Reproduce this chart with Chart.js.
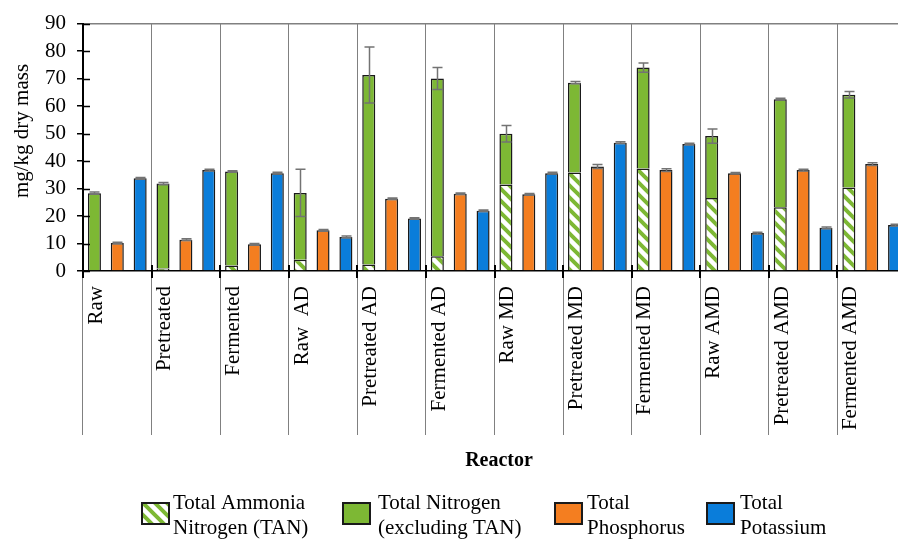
<!DOCTYPE html>
<html>
<head>
<meta charset="utf-8">
<script src="https://cdn.jsdelivr.net/npm/chart.js@4/dist/chart.umd.min.js"></script>
<style>
  html, body { margin: 0; padding: 0; background: #fff; overflow: hidden; width: 898px; height: 541px; }
  canvas { display: block; }
</style>
</head>
<body>
<canvas id="c" width="920" height="541"></canvas>
<script>
// Reactors (x categories)
const reactors = ['Raw', 'Pretreated', 'Fermented', 'Raw  AD', 'Pretreated AD', 'Fermented AD',
                  'Raw MD', 'Pretreated MD', 'Fermented MD', 'Raw AMD', 'Pretreated AMD', 'Fermented AMD'];

// Nutrient contents, mg/kg dry mass
const tan        = [0.0, 0.9, 2.0, 4.1, 2.4, 5.4, 31.5, 35.8, 37.3, 26.6, 23.2, 30.4];
const tnExclTan  = [28.3, 30.9, 34.2, 24.3, 68.9, 64.6, 18.4, 32.7, 36.7, 22.5, 39.3, 33.7];
const phosphorus = [10.2, 11.4, 9.7, 14.8, 26.3, 28.1, 27.9, 38.0, 36.7, 35.6, 36.7, 38.9];
const potassium  = [33.7, 36.7, 35.6, 12.4, 19.1, 21.9, 35.6, 46.7, 46.2, 13.8, 15.7, 16.7];

// Standard deviations (total nitrogen, phosphorus, potassium)
const nErr = [0.4, 0.4, 0.3, 8.6, 10.2, 4.0, 3.0, 0.4, 1.7, 2.6, 0.3, 1.2];
const pErr = [0.3, 0.3, 0.3, 0.3, 0.3, 0.3, 0.3, 0.7, 0.5, 0.2, 0.3, 0.5];
const kErr = [0.3, 0.3, 0.3, 0.3, 0.3, 0.3, 0.3, 0.3, 0.3, 0.3, 0.3, 0.3];

// Axis ticks
const yMin = 0, yMax = 90, yStep = 10;

const GREEN = '#7db834';
const ORANGE = '#f47e20';
const BLUE = '#0a7dda';
const EDGE = '#1a1a1a';
const FONT = "'Liberation Serif', 'Times New Roman', serif";

// white background with green downward-diagonal stripes
function makeHatch() {
  const s = 12;
  const c = document.createElement('canvas');
  c.width = s; c.height = s;
  const g = c.getContext('2d');
  g.fillStyle = '#fff';
  g.fillRect(0, 0, s, s);
  g.strokeStyle = GREEN;
  g.lineWidth = 4;
  g.beginPath();
  for (let k = -1; k <= 1; k++) {
    g.moveTo(-s, -s + k * s);
    g.lineTo(2 * s, 2 * s + k * s);
  }
  g.stroke();
  return g.createPattern(c, 'repeat');
}

const canvas = document.getElementById('c');
const hatch = makeHatch();

const barStyle = { borderColor: EDGE, borderWidth: 1.5, categoryPercentage: 1.0, barPercentage: 0.57 };

const datasets = [
  Object.assign({ label: ['Total Ammonia', 'Nitrogen (TAN)'], data: tan, stack: 'N', backgroundColor: hatch, err: null }, barStyle),
  Object.assign({ label: ['Total Nitrogen', '(excluding TAN)'], data: tnExclTan, stack: 'N', backgroundColor: GREEN, err: nErr }, barStyle),
  Object.assign({ label: ['Total', 'Phosphorus'], data: phosphorus, stack: 'P', backgroundColor: ORANGE, err: pErr }, barStyle),
  Object.assign({ label: ['Total', 'Potassium'], data: potassium, stack: 'K', backgroundColor: BLUE, err: kErr }, barStyle)
];

// error bars, axis cross ticks, titles and the two-line legend
const decor = {
  id: 'decor',
  afterDatasetsDraw(chart) {
    const ctx = chart.ctx;
    const y = chart.scales.y;
    ctx.save();
    ctx.strokeStyle = '#737373';
    ctx.lineWidth = 1.5;
    chart.data.datasets.forEach((ds, di) => {
      if (!ds.err) return;
      const meta = chart.getDatasetMeta(di);
      meta.data.forEach((el, i) => {
        const top = y.getValueForPixel(el.y);
        const e = ds.err[i];
        const y1 = y.getPixelForValue(top + e);
        const y2 = y.getPixelForValue(top - e);
        const x = Math.round(el.x) + 0.5;
        ctx.beginPath();
        ctx.moveTo(x, y1); ctx.lineTo(x, y2);
        ctx.moveTo(x - 5, y1); ctx.lineTo(x + 5, y1);
        ctx.moveTo(x - 5, y2); ctx.lineTo(x + 5, y2);
        ctx.stroke();
      });
    });
    ctx.restore();
  },
  afterDraw(chart) {
    const ctx = chart.ctx;
    const area = chart.chartArea;
    const xs = chart.scales.x, ys = chart.scales.y;
    ctx.save();
    // inner halves of the y tick marks
    ctx.strokeStyle = '#000';
    ctx.lineWidth = 1.5;
    for (let v = yMin; v <= yMax; v += yStep) {
      const py = Math.round(ys.getPixelForValue(v)) + 0.5;
      ctx.beginPath(); ctx.moveTo(area.left, py); ctx.lineTo(area.left + 7, py); ctx.stroke();
    }
    // short dark marks across the x axis at the category boundaries
    ctx.lineWidth = 2;
    const n = xs.ticks.length;
    const w = (area.right - area.left) / n;
    for (let i = 0; i <= n; i++) {
      const px = Math.round(area.left + i * w);
      ctx.beginPath(); ctx.moveTo(px, area.bottom - 6); ctx.lineTo(px, area.bottom + 7); ctx.stroke();
    }
    // axis titles
    ctx.fillStyle = '#000';
    ctx.textAlign = 'center';
    ctx.textBaseline = 'middle';
    ctx.font = 'bold 20px ' + FONT;
    ctx.fillText('Reactor', 499, 461);
    ctx.save();
    ctx.translate(22, 131);
    ctx.rotate(-Math.PI / 2);
    ctx.font = '21px ' + FONT;
    ctx.fillText('mg/kg dry mass', 0, 0);
    ctx.restore();
    // legend
    const boxX = [142, 343, 555, 707];
    const textX = [173, 378, 587, 740];
    ctx.font = '21px ' + FONT;
    ctx.textAlign = 'left';
    chart.data.datasets.forEach((ds, i) => {
      ctx.fillStyle = ds.backgroundColor;
      ctx.fillRect(boxX[i], 503, 27, 21);
      ctx.strokeStyle = EDGE;
      ctx.lineWidth = 2;
      ctx.strokeRect(boxX[i], 503, 27, 21);
      ctx.fillStyle = '#000';
      ds.label.forEach((line, j) => ctx.fillText(line, textX[i], 503 + j * 25));
    });
    ctx.restore();
  }
};

new Chart(canvas, {
  type: 'bar',
  data: { labels: reactors, datasets },
  plugins: [decor],
  options: {
    responsive: false,
    animation: false,
    layout: { padding: { top: 22, right: 14, bottom: 0, left: 0 } },
    plugins: { legend: { display: false }, tooltip: { enabled: false } },
    scales: {
      x: {
        stacked: true,
        offset: true,
        grid: { offset: true, color: '#808080', lineWidth: 1, drawOnChartArea: true, tickLength: 164, tickColor: '#808080' },
        border: { color: '#000', width: 1.5 },
        ticks: {
          autoSkip: false, maxRotation: 90, minRotation: 90,
          labelOffset: -21, padding: -149,
          color: '#000', font: { family: FONT, size: 21 }
        },
        afterFit: (s) => { s.height = 270; }
      },
      y: {
        stacked: true,
        min: yMin, max: yMax,
        ticks: { stepSize: yStep, autoSkip: false, padding: 11, color: '#000', font: { family: FONT, size: 21 } },
        grid: {
          color: (c) => (c.tick && c.tick.value === yMax) ? '#808080' : 'rgba(0,0,0,0)',
          lineWidth: 1.5, tickLength: 6, tickColor: '#000'
        },
        border: { color: '#000', width: 2 },
        afterFit: (s) => { s.width = 83; }
      }
    }
  }
});
</script>
</body>
</html>
